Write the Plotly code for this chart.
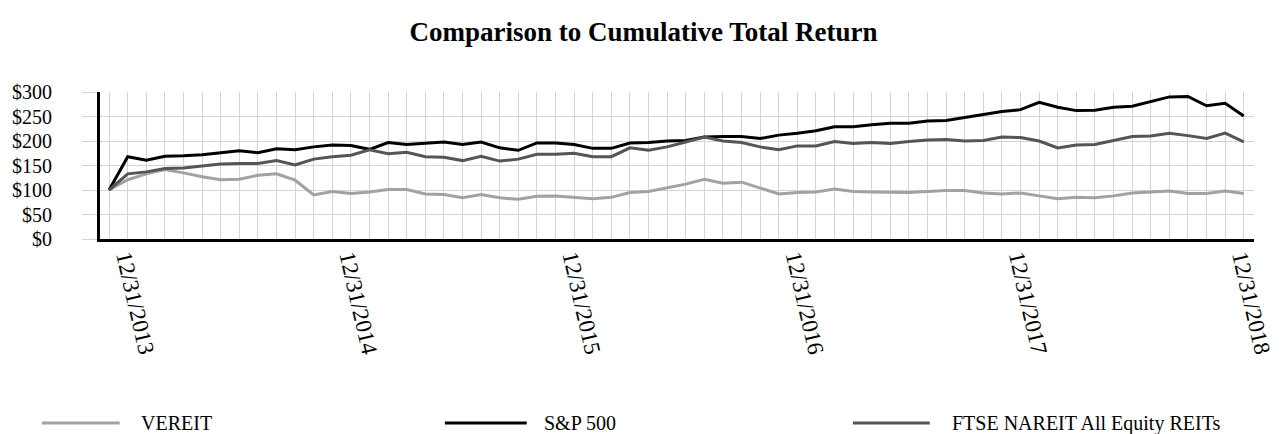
import plotly.graph_objects as go

# Month-end index 0..61 (12/31/2013 onward, as drawn in the reference)
vereit = [100, 121, 133, 142, 135, 127, 121, 122, 130, 133, 120, 90, 97, 93, 96, 101, 101, 92, 91, 84,
          91, 84, 81, 87, 88, 85, 82, 85, 95, 97, 104, 112, 122, 114, 116, 104, 92, 95, 96, 102,
          97, 96, 95, 95, 97, 99, 99, 94, 92, 94, 88, 82, 85, 84, 88, 94, 96, 98, 93, 93,
          98, 93]
sp500 = [100, 168, 161, 169, 170, 172, 176, 180, 176, 184, 182, 188, 192, 191, 183, 197, 193, 195, 198, 193,
         198, 186, 181, 196, 196, 193, 185, 185, 196, 197, 200, 201, 208, 209, 209, 205, 212, 216, 221, 229,
         229, 233, 236, 236, 241, 242, 248, 253, 260, 264, 279, 269, 262, 263, 269, 271, 281, 290, 291, 272,
         277, 251]
ftse = [100, 133, 137, 144, 145, 149, 153, 154, 154, 160, 151, 163, 168, 171, 182, 174, 177, 168, 167, 160,
        169, 159, 163, 173, 173, 175, 168, 168, 186, 181, 188, 198, 208, 200, 197, 188, 182, 190, 190, 199,
        195, 197, 195, 199, 202, 203, 200, 201, 208, 207, 200, 186, 192, 193, 201, 209, 210, 216, 211, 205,
        216, 198]

year_labels = ["12/31/2013", "12/31/2014", "12/31/2015", "12/31/2016", "12/31/2017", "12/31/2018"]
year_label_index = [0, 12, 24, 36, 48, 60]
y_ticks = [0, 50, 100, 150, 200, 250, 300]

series = [("VEREIT", vereit, "#a2a2a2"),
          ("S&P 500", sp500, "#000000"),
          ("FTSE NAREIT All Equity REITs", ftse, "#555555")]

n = len(vereit)
x = list(range(n))
tickvals = x
ticktext = [year_labels[year_label_index.index(i)] if i in year_label_index else "" for i in x]

SERIF = "Liberation Serif, Times New Roman, serif"

fig = go.Figure()
for name, vals, col in series:
    fig.add_trace(go.Scatter(x=x, y=vals, mode="lines", name=name,
                             line=dict(color=col, width=3), showlegend=False))

W, H = 1287, 434
L, R, T, B = 96, 20, 92, 195
pw, ph = W - L - R, H - T - B

def px2paper_x(px):
    return (px - L) / pw

def px2paper_y(py):
    return (H - B - py) / ph

# Manual legend (long line samples as in the reference)
legend_items = [(37, 116, 136), (446, 529, 545), (860, 938, 959)]
shapes = []
annotations = []
ly = 423
for (x0, x1, tx), (name, vals, col) in zip(legend_items, series):
    shapes.append(dict(type="line", xref="paper", yref="paper",
                       x0=px2paper_x(x0), x1=px2paper_x(x1),
                       y0=px2paper_y(ly), y1=px2paper_y(ly),
                       line=dict(color=col, width=3)))
    annotations.append(dict(xref="paper", yref="paper", x=px2paper_x(tx), y=px2paper_y(ly),
                            text=name, showarrow=False, xanchor="left", yanchor="middle",
                            font=dict(family=SERIF, size=20, color="#000000")))

fig.update_layout(
    width=W, height=H,
    margin=dict(l=L, r=R, t=T, b=B),
    paper_bgcolor="white", plot_bgcolor="white",
    title=dict(text="<b>Comparison to Cumulative Total Return</b>", x=0.5, xanchor="center",
               y=1 - 32 / H, yanchor="middle",
               font=dict(family=SERIF, size=27, color="#000000")),
    shapes=shapes, annotations=annotations,
    xaxis=dict(range=[-0.49, 61.55], tickvals=tickvals, ticktext=ticktext,
               tickangle=77, showgrid=True, gridcolor="#d4d4d4", gridwidth=1,
               showline=True, linecolor="#000000", linewidth=3, ticks="",
               ticklabelshift=18, ticklabelstandoff=-7, ticklabeloverflow="allow",
               tickfont=dict(family=SERIF, size=23, color="#000000"), zeroline=False,
               fixedrange=True),
    yaxis=dict(range=[0, 300], tickvals=y_ticks, ticktext=["$" + str(v) for v in y_ticks],
               showgrid=True, gridcolor="#d4d4d4", gridwidth=1,
               showline=True, linecolor="#000000", linewidth=3,
               ticks="outside", ticklen=15, tickcolor="#d4d4d4", tickwidth=1,
               ticklabelstandoff=26,
               tickfont=dict(family=SERIF, size=20, color="#000000"), zeroline=False,
               fixedrange=True),
)

fig.write_html("out.html", config={"displayModeBar": False},
               post_script="document.body.style.margin='0';document.body.style.padding='0';document.body.style.overflow='hidden';")
